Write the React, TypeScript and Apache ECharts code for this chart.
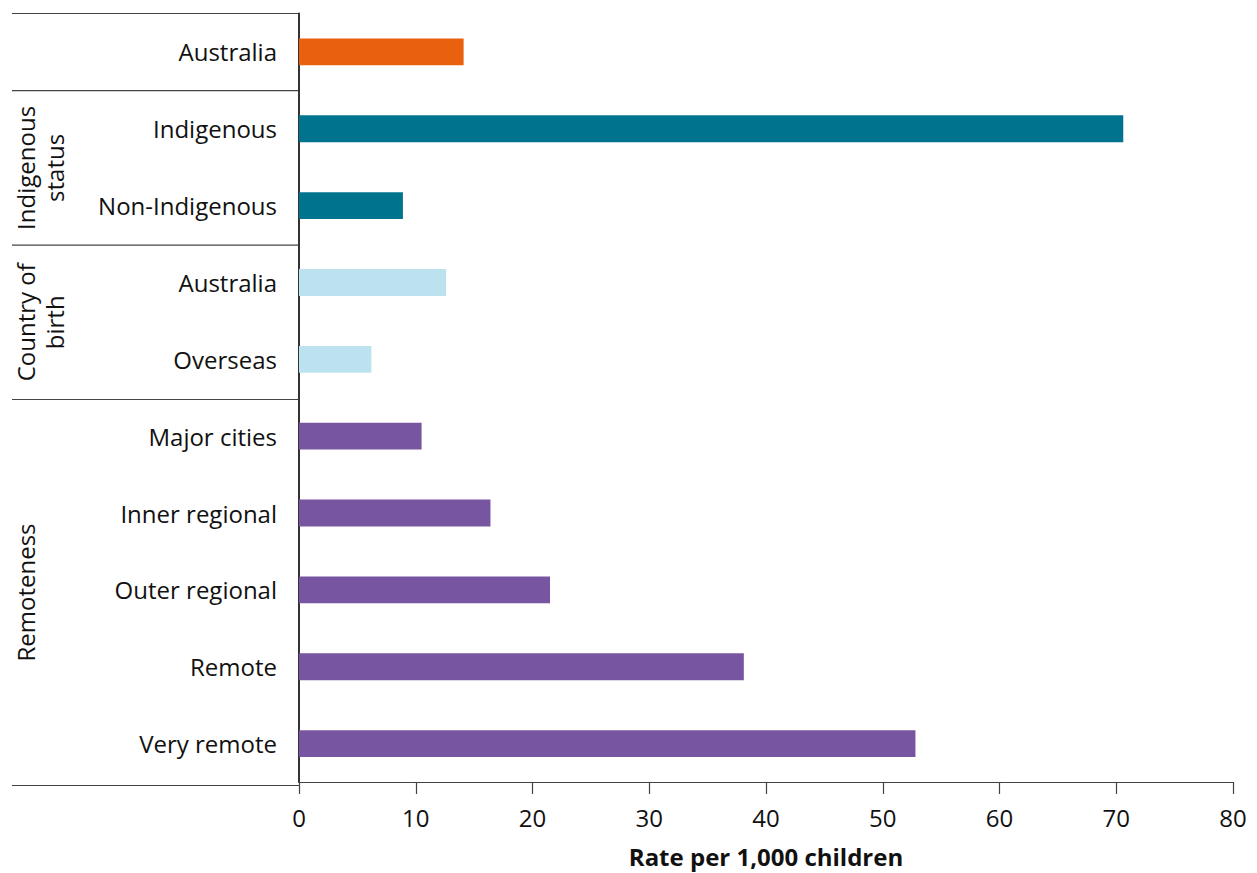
import React, { useEffect, useRef } from "react";
import * as echarts from "echarts";

const categories = [
  "Australia",
  "Indigenous",
  "Non-Indigenous",
  "Australia ",
  "Overseas",
  "Major cities",
  "Inner regional",
  "Outer regional",
  "Remote",
  "Very remote",
];
const values = [14.1, 70.6, 8.9, 12.6, 6.2, 10.5, 16.4, 21.5, 38.1, 52.8];
const barColors = [
  "#E9610E",
  "#00748F",
  "#00748F",
  "#BDE2EF",
  "#BDE2EF",
  "#7855A0",
  "#7855A0",
  "#7855A0",
  "#7855A0",
  "#7855A0",
];
// groups: [label, first index, last index]
const groups: [string, number, number][] = [
  ["", 0, 0],
  ["Indigenous\nstatus", 1, 2],
  ["Country of\nbirth", 3, 4],
  ["Remoteness", 5, 9],
];
const xTicks = { min: 0, max: 80, interval: 10 };
const axisTitle = "Rate per 1,000 children";

const W = 1257;
const H = 873;
const GRID = { left: 299, right: 24, top: 13.5, bottom: 87.5 };
const OUTER_LEFT = 12;
const FONT = "'Open Sans', 'Noto Sans', sans-serif";
const FS = 24;

export default function App() {
  const ref = useRef<HTMLDivElement>(null);
  useEffect(() => {
    if (!ref.current) return;
    const chart = echarts.init(ref.current, undefined, { renderer: "svg" });
    const plotTop = GRID.top;
    const plotBottom = H - GRID.bottom;
    const band = (plotBottom - plotTop) / categories.length;
    const lineStyle = { stroke: "#444", lineWidth: 1.2 };
    const graphics: any[] = [];
    groups.forEach(([label, a, b]) => {
      const y = plotTop + a * band;
      graphics.push({
        type: "line",
        shape: { x1: OUTER_LEFT, y1: y, x2: GRID.left, y2: y },
        style: lineStyle,
        silent: true,
      });
      if (label) {
        const cy = plotTop + ((a + b + 1) / 2) * band;
        graphics.push({
          type: "text",
          x: 11,
          y: cy,
          rotation: Math.PI / 2,
          style: {
            text: label,
            fontSize: FS,
            fontFamily: FONT,
            fill: "#111",
            align: "center",
            verticalAlign: "top",
            lineHeight: 29,
          },
          silent: true,
        });
      }
    });
    graphics.push({
      type: "line",
      shape: { x1: OUTER_LEFT, y1: plotBottom, x2: GRID.left, y2: plotBottom },
      style: lineStyle,
      silent: true,
    });

    chart.setOption({
      animation: false,
      backgroundColor: "#fff",
      grid: { ...GRID, containLabel: false },
      xAxis: {
        type: "value",
        min: xTicks.min,
        max: xTicks.max,
        interval: xTicks.interval,
        splitLine: { show: false },
        axisLine: { show: true, lineStyle: { color: "#444", width: 1.2 } },
        axisTick: { show: true, length: 12, lineStyle: { color: "#444", width: 1.2 } },
        axisLabel: {
          fontSize: FS,
          fontFamily: FONT,
          color: "#111",
          margin: 23,
        },
        name: axisTitle,
        nameLocation: "middle",
        nameGap: 62,
        nameTextStyle: {
          fontSize: 24,
          fontWeight: "bold",
          fontFamily: FONT,
          color: "#111",
        },
      },
      yAxis: {
        type: "category",
        data: categories,
        inverse: true,
        axisLine: { show: true, lineStyle: { color: "#333", width: 2 } },
        axisTick: { show: false },
        axisLabel: {
          fontSize: FS,
          fontFamily: FONT,
          color: "#111",
          margin: 22,
          formatter: (v: string) => v.trim(),
        },
      },
      series: [
        {
          type: "bar",
          data: values.map((v, i) => ({ value: v, itemStyle: { color: barColors[i] } })),
          barWidth: "35%",
          z: 1,
        },
      ],
      graphic: graphics,
    });
    return () => chart.dispose();
  }, []);
  return (
    <div
      ref={ref}
      style={{ position: "absolute", left: 0, top: 0, width: W, height: H }}
    />
  );
}
